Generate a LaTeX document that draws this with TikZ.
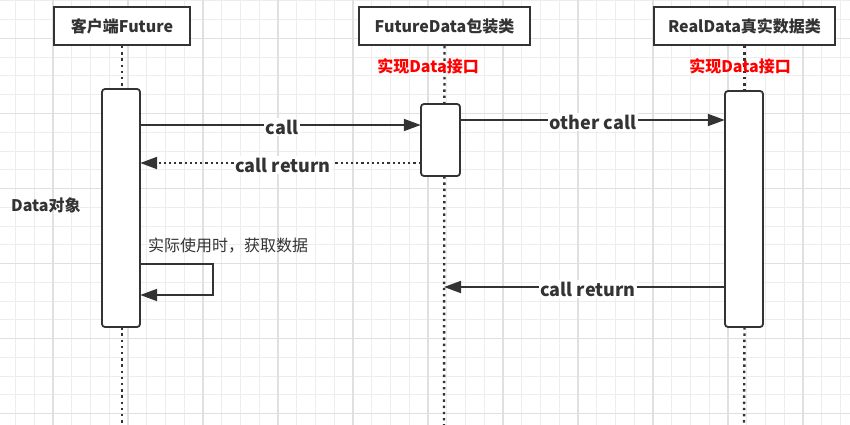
\documentclass[tikz,border=0pt]{standalone}
\usepackage{fontspec}
\newfontfamily\cjk{Noto Sans CJK SC}
\usetikzlibrary{arrows.meta}
\definecolor{ink}{HTML}{333333}
\definecolor{gminor}{HTML}{EDEDED}
\definecolor{gmajor}{HTML}{E0E0E0}
\begin{document}
\begin{tikzpicture}[x=1pt,y=-1pt,
  gridminor/.style={draw=gminor, line width=1pt},
  gridmajor/.style={draw=gmajor, line width=1.2pt},
  head/.style={draw=ink, line width=2pt, fill=white, minimum height=38pt, inner sep=0pt, text=ink, font=\cjk\bfseries\fontsize{16}{18}\selectfont},
  act/.style={draw=ink, line width=1.8pt, fill=white, rounded corners=3pt, inner sep=0pt},
  life/.style={draw=ink, line width=2.4pt, dash pattern=on 2.4pt off 3.8pt},
  msg/.style={draw=ink, line width=1.8pt, -{Triangle[length=17pt,width=12pt]}},
  ret/.style={msg, line width=2.2pt, dash pattern=on 2.2pt off 3pt},
  lbl/.style={fill=white, text=ink, inner sep=1.5pt, font=\cjk\bfseries\fontsize{18}{20}\selectfont},
  note/.style={text=ink, inner sep=0pt, font=\cjk\fontsize{16}{18}\selectfont},
  bnote/.style={text=ink, inner sep=0pt, font=\cjk\bfseries\fontsize{16}{18}\selectfont},
  rnote/.style={text=red, inner sep=0pt, font=\cjk\bfseries\fontsize{16}{18}\selectfont}
]
\useasboundingbox (0,0) rectangle (850,425);
\fill[white] (0,0) rectangle (850,425);
% grid
\foreach \i in {0,...,46} \draw[gridminor] ({-3.25+18.75*\i},0) -- ++(0,425);
\foreach \i in {0,...,23} \draw[gridminor] (0,{1+18.75*\i}) -- ++(850,0);
\foreach \i in {0,...,11} \draw[gridmajor] ({53+75*\i},0) -- ++(0,425);
\foreach \i in {0,...,5} \draw[gridmajor] (0,{38.5+75*\i}) -- ++(850,0);

% headers
\node[head, minimum width=136pt] (h1) at (122,26) {客户端Future};
\node[head, minimum width=171pt] (h2) at (444.5,26) {FutureData包装类};
\node[head, minimum width=181pt] (h3) at (744.5,26) {RealData真实数据类};

% lifeline ends
\coordinate (e1) at (122,425);
\coordinate (e2) at (444,425);
\coordinate (e3) at (744,425);

% activations (positions)
\path (121,208) node[minimum width=38pt, minimum height=238pt, inner sep=0pt] (a1) {};
\path (440.5,140) node[minimum width=39pt, minimum height=72pt, inner sep=0pt] (a2) {};
\path (744,209) node[minimum width=38pt, minimum height=236pt, inner sep=0pt] (a3) {};

% lifelines
\draw[life] (h1.south) -- (h1.south |- a1.north);
\draw[life] (h1.south |- a1.south) -- (e1);
\draw[life] (h2.south) -- (e2);
\draw[life] (h3.south) -- (h3.south |- a3.north);
\draw[life] (h3.south |- a3.south) -- (e3);

% activation boxes
\node[act, minimum width=38pt, minimum height=238pt] at (a1) {};
\node[act, minimum width=39pt, minimum height=72pt] at (a2) {};
\node[act, minimum width=38pt, minimum height=236pt] at (a3) {};

% messages
\draw[msg] (a1.east |- 0,125) -- (a2.west |- 0,125);
\draw[msg] (a2.east |- 0,120) -- (a3.west |- 0,120);
\draw[ret] (a2.west |- 0,163) -- (a1.east |- 0,163);
\draw[msg] (a1.east |- 0,264) -- (213,264) -- (213,295) -- (a1.east |- 0,295);
\draw[msg] (a3.west |- 0,287) -- (e2 |- 0,287);

% labels
\node[lbl] (l1) at (282,127) {call};
\node[lbl] (l2) at (593,122) {other call};
\node[lbl] (l3) at (283,165) {call return};
\node[lbl] (l4) at (588,289) {call return};
\node[note, anchor=west] (l5) at (148,246) {实际使用时，获取数据};
\node[bnote, anchor=west] (l6) at (11,205) {Data对象};
\node[rnote] (r1) at (428,66) {实现Data接口};
\node[rnote] (r2) at (740,66) {实现Data接口};
\end{tikzpicture}
\end{document}
